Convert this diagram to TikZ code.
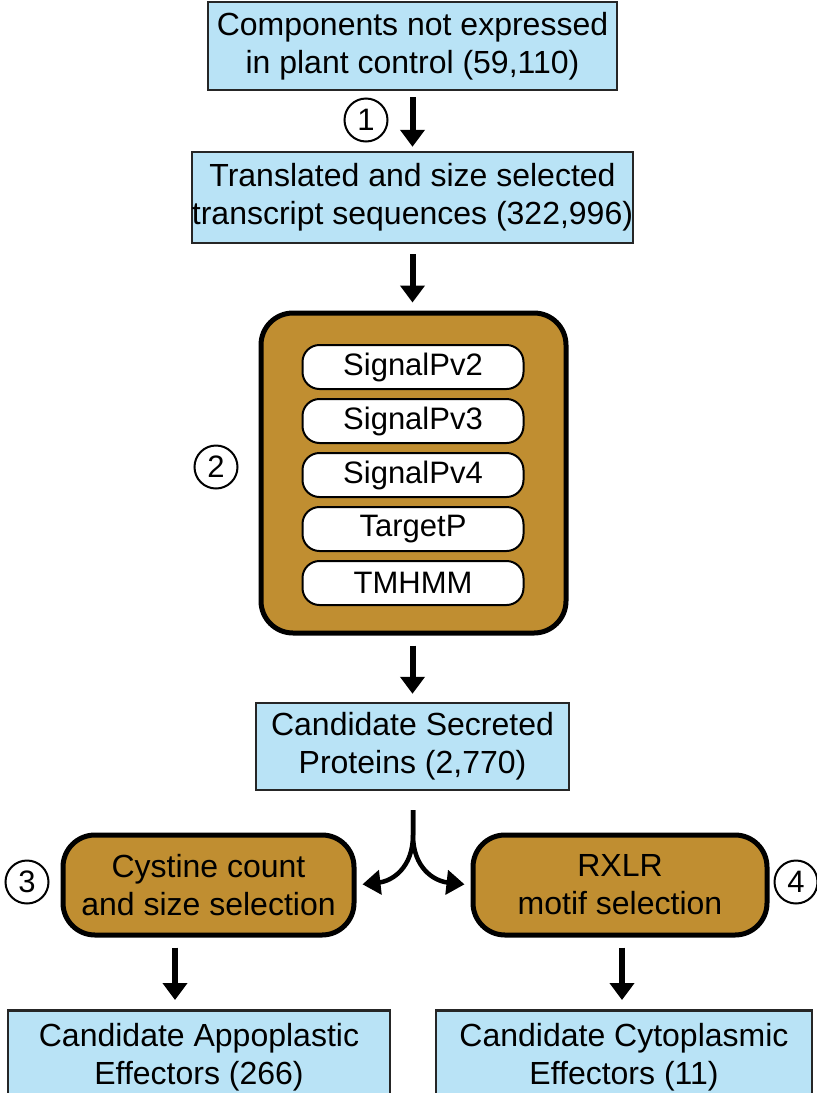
\documentclass[tikz,border=0pt]{standalone}
\usepackage{fontspec}
\setmainfont{Liberation Sans}
\usetikzlibrary{arrows.meta}
\definecolor{boxblue}{RGB}{185,227,246}
\definecolor{boxbrown}{RGB}{192,142,49}
\begin{document}
\begin{tikzpicture}[x=1pt,y=-1pt,
  bluebox/.style={draw=black!85, line width=2.5pt, fill=boxblue, align=center, inner sep=0pt,
    font=\fontsize{32}{38}\selectfont},
  brownbox/.style={draw=black, line width=5pt, fill=boxbrown, rounded corners=32pt, align=center, inner sep=0pt,
    font=\fontsize{32}{38}\selectfont},
  pill/.style={draw=black, line width=2pt, fill=white, rounded corners=17pt, inner sep=0pt,
    minimum width=221pt, minimum height=44pt, font=\fontsize{31}{36}\selectfont},
  num/.style={circle, draw=black, line width=2pt, minimum size=43pt, inner sep=0pt,
    font=\fontsize{31}{36}\selectfont},
  arr/.style={line width=6pt, -{Triangle[width=24pt,length=17pt]}},
  forkarr/.style={line width=4.5pt, -{Triangle[width=24pt,length=18pt]}},
  plain/.style={align=center, font=\fontsize{32}{38}\selectfont}
]
\useasboundingbox (0,0) rectangle (817,1093);
\begin{scope}
\clip (0,0) rectangle (817,1093);

\node[bluebox, minimum width=409pt, minimum height=88pt] (comp) at (412.5,46)
  {Components not expressed\\in plant control (59,110)};
\node[bluebox, minimum width=439pt, minimum height=91pt] (trans) at (412.5,197.5)
  {Translated and size selected\\transcript sequences (322,996)};

\node[brownbox, minimum width=305pt, minimum height=320pt] (tools) at (413.5,473) {};
\node[pill] (sp2) at (413,367) {SignalPv2};
\node[pill] (sp3) at (413,421) {SignalPv3};
\node[pill] (sp4) at (413,475) {SignalPv4};
\node[pill] (tp) at (413,529) {TargetP};
\node[pill] (tm) at (413,583) {TMHMM};

\node[bluebox, minimum width=313pt, minimum height=87pt] (sec) at (412.5,746.5)
  {Candidate Secreted\\Proteins (2,770)};

\node[brownbox, minimum width=291pt, minimum height=100pt] (cyst) at (208.5,885)
  {Cystine count\\and size selection};
\node[brownbox, minimum width=294pt, minimum height=100pt] (rxlr) at (620,885)
  {RXLR\\motif selection};

\node[bluebox, minimum width=382pt, minimum height=110pt, anchor=north] (apo) at (199,1009)
  {};
\node[bluebox, minimum width=376pt, minimum height=110pt, anchor=north] (cyto) at (624,1009)
  {};
\node[plain] (apot) at (199,1057)
  {Candidate Appoplastic\\Effectors (266)};
\node[plain] (cytot) at (624,1057)
  {Candidate Cytoplasmic\\Effectors (11)};

\node[num] (n1) at (366,120) {1};
\node[num] (n2) at (216,467) {2};
\node[num] (n3) at (27,882) {3};
\node[num] (n4) at (796,882) {4};

\draw[arr, shorten <=6pt, shorten >=4pt] (comp.south) -- (trans.north);
\draw[arr, shorten <=10pt, shorten >=8pt] (trans.south) -- (trans.south |- tools.north);
\draw[arr, shorten <=10pt, shorten >=8pt] (tools.south -| sec.north) -- (sec.north);
\draw[arr, shorten <=10pt, shorten >=9pt] (cyst.south -| 175,0) -- (apo.north -| 175,0);
\draw[arr, shorten <=10pt, shorten >=9pt] (rxlr.south -| 622,0) -- (cyto.north -| 622,0);

\coordinate (fork) at (413,810);
\coordinate (split) at (413,835);
\draw[forkarr, shorten >=6pt] (fork) -- (split) .. controls (413,868) and (392,881) .. (cyst.east);
\draw[forkarr, shorten >=6pt] (fork) -- (split) .. controls (413,868) and (434,881) .. (rxlr.west);
\end{scope}
\end{tikzpicture}
\end{document}
